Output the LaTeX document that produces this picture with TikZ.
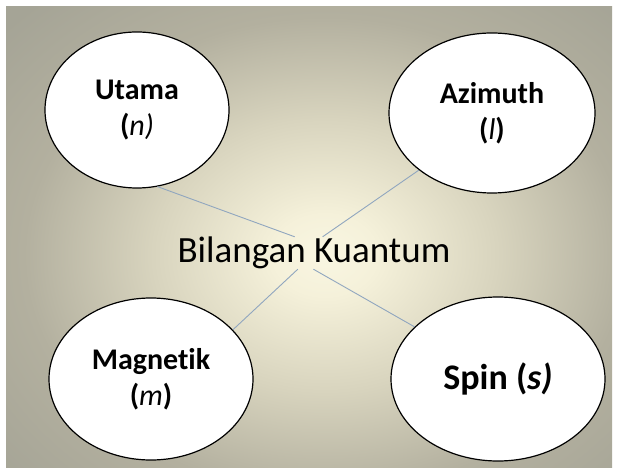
\documentclass[tikz,border=0pt]{standalone}
\usepackage{fontspec}
\setmainfont{Carlito}[Ligatures={NoCommon,NoContextual,NoRequired}]
\usepackage{tikz}
\usetikzlibrary{shapes.geometric}

\definecolor{glowin}{HTML}{F9F6E2}
\definecolor{glowlight}{HTML}{F5F1DA}
\definecolor{glowmid}{HTML}{D8D4BE}
\definecolor{glowedge}{HTML}{B3B09F}
\definecolor{glowout}{HTML}{A5A496}
\definecolor{linkblue}{HTML}{90A6BF}

% 25bp is the edge of the shaded box
\pgfdeclareradialshading{glow}{\pgfpoint{0bp}{0bp}}{%
  color(0bp)=(glowin); color(3bp)=(glowlight);
  color(10bp)=(glowmid); color(17.5bp)=(glowedge);
  color(25bp)=(glowout); color(50bp)=(glowout)}

\newcommand{\qsym}[1]{{\mdseries\itshape #1}}

\tikzset{
  qnum/.style={ellipse, draw=black, line width=1.2pt, fill=white,
    inner sep=0pt, align=center,
    font=\bfseries\fontsize{30}{36}\selectfont},
  link/.style={draw=linkblue, line width=0.9pt}
}

\begin{document}
\begin{tikzpicture}[x=1pt,y=1pt]
\useasboundingbox (0,0) rectangle (620,471);
\fill [white] (0,0) rectangle (620,471);
\begin{scope}
\clip (6,4) rectangle (612,464);
\shade [shading=glow] (-105,-124) rectangle (755,556);
\end{scope}

\node [qnum, minimum width=184, minimum height=156] (utama) at (137,361)
  {Utama\\(\qsym{n)}};
\node [qnum, minimum width=206, minimum height=160] (azimuth) at (492,358)
  {Azimuth\\(\qsym{l})};
\node [qnum, minimum width=204, minimum height=162] (magnetik) at (151,92)
  {Magnetik\\(\qsym{m})};
\node [qnum, minimum width=214, minimum height=164,
  font=\bfseries\fontsize{36}{40}\selectfont] (spin) at (498,92)
  {Spin (\textit{s)}};

\node [inner sep=0pt, font=\fontsize{37}{40}\selectfont] (bk) at (314,218)
  {Bilangan Kuantum};

\draw [link] (utama.-75) -- (bk.140);
\draw [link] (azimuth.218) -- (bk.62);
\draw [link] (magnetik.31) -- (bk.225);
\draw [link] (spin.148) -- (bk.268);
\end{tikzpicture}
\end{document}
